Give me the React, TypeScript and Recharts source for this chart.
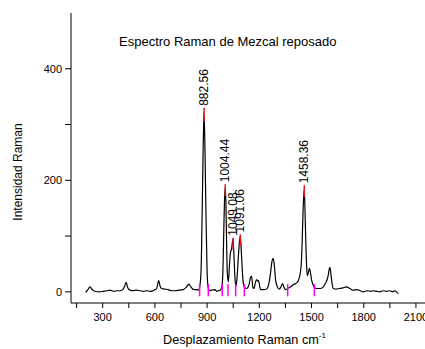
import { ComposedChart, Line, ReferenceLine, Scatter, XAxis, YAxis } from "recharts";

// Raman shift (cm-1) and intensity
const ramanShift = [
  202, 215, 227, 240, 256, 280, 303, 325, 342, 365, 385, 399, 415, 425, 434, 445, 457, 475, 492, 515,
  535, 553, 575, 595, 610, 622, 630, 639, 655, 677, 695, 715, 740, 763, 780, 796, 805, 811, 825, 840,
  850, 857, 865, 872, 877, 882.56, 888, 893, 900, 907, 915, 926, 945, 955, 964, 975, 984, 990, 996, 1000,
  1004.44, 1008, 1012, 1016, 1022, 1028, 1034, 1040, 1049.08, 1055, 1060, 1066, 1072, 1080, 1086, 1091.06, 1097, 1104, 1110, 1116,
  1128, 1140, 1151, 1156, 1163, 1170, 1178, 1185, 1191, 1196, 1202, 1208, 1225, 1242, 1255, 1265, 1273, 1280, 1287, 1294,
  1300, 1315, 1326, 1334, 1342, 1349, 1363, 1380, 1396, 1410, 1424, 1435, 1442, 1447, 1452, 1458.36, 1463, 1468, 1472, 1476,
  1482, 1487, 1492, 1500, 1507, 1516, 1530, 1549, 1565, 1578, 1587, 1595, 1601, 1606, 1612, 1618, 1625, 1640, 1660, 1680,
  1700, 1720, 1740, 1760, 1780, 1798, 1820, 1840, 1856, 1875, 1894, 1910, 1930, 1951, 1965, 1980, 1990, 1999,
];
const intensity = [
  -1, 4, 9, 4, 1, 0, 1, 2, 3, 1, 2, 2, 4, 9, 17, 7, 3, 2, 3, 2,
  1, 2, 1, 3, 6, 20, 10, 6, 5, 4, 2, 2, 3, 4, 8, 14, 10, 7, 4, 4,
  3, 8, 35, 150, 250, 322, 250, 150, 35, 6, 2, 3, 4, 1, 2, 3, 8, 30, 110, 165,
  188, 160, 90, 35, 18, 45, 70, 76, 95, 60, 25, 10, 25, 65, 90, 100, 70, 30, 12, 8,
  6, 12, 27, 28, 8, 6, 18, 22, 19, 20, 10, 4, 4, 5, 15, 35, 55, 60, 45, 20,
  12, 5, 10, 15, 8, 4, 6, 9, 13, 15, 20, 33, 55, 99, 150, 185, 140, 80, 45, 29,
  35, 42, 38, 22, 14, 8, 6, 6, 8, 14, 20, 28, 40, 44, 30, 15, 6, 5, 6, 7,
  9, 6, 3, 4, 2, 0, 2, 1, 2, 1, 0, 2, 1, 2, 0, 2, -1, -3,
];

// fitted peak centres
const peakCenters = [882.56, 1004.44, 1049.08, 1091.06, 1458.36];
const peakLabels = ["882.56", "1004.44", "1049.08", "1091.06", "1458.36"];
const peakMarkLow = [306, 172, 76, 82, 170];
const peakMarkHigh = [330, 193, 97, 103, 191];

// baseline anchor markers
const baseMarkers = [857, 907, 987, 1020, 1064, 1114, 1363, 1516];

const xTicks = [150, 300, 450, 600, 750, 900, 1050, 1200, 1350, 1500, 1650, 1800, 1950, 2100];
const yTicks = [0, 100, 200, 300, 400];

const spectrum = ramanShift.map((x, i) => ({ x, y: intensity[i] }));
const peaks = peakCenters.map((x, i) => ({ x, y: peakMarkHigh[i], label: peakLabels[i] }));

const font = "'Liberation Sans', Arial, sans-serif";

const PeakLabel = (props: any) => {
  const { cx, cy, payload } = props;
  const x = cx + 4;
  const y = cy - 2;
  return (
    <text
      x={x}
      y={y}
      transform={`rotate(-90, ${x}, ${y})`}
      fontSize={12}
      fontFamily={font}
      fill="#000"
    >
      {payload.label}
    </text>
  );
};

export default function App() {
  return (
    <div style={{ position: "absolute", left: 0, top: 0, width: 425, height: 349, background: "#fff" }}>
      <div
        style={{
          position: "absolute",
          left: 119,
          top: 34,
          fontFamily: font,
          fontSize: 13,
          color: "#000",
          whiteSpace: "nowrap",
        }}
      >
        Espectro Raman de Mezcal reposado
      </div>
      <ComposedChart width={425} height={349} margin={{ top: 13, right: 0, bottom: 0, left: 0 }}>
        <XAxis
          xAxisId="top"
          orientation="top"
          type="number"
          dataKey="x"
          domain={[118, 2152]}
          height={0}
          tick={false}
          tickLine={false}
          axisLine={{ stroke: "#000" }}
        />
        <XAxis
          type="number"
          dataKey="x"
          domain={[118, 2152]}
          ticks={xTicks}
          allowDataOverflow
          height={46}
          tickSize={5}
          tickMargin={5}
          stroke="#000"
          tick={{ fontSize: 11, fontFamily: font, fill: "#000" }}
          tickFormatter={(v: number) => (v % 300 === 0 ? String(v) : "")}
          interval={0}
          label={{
            content: () => (
              <text x={163} y={344} fontSize={12.7} fontFamily={font} fill="#000">
                Desplazamiento Raman cm
                <tspan fontSize={8} dy={-6}>-1</tspan>
              </text>
            ),
          }}
        />
        <YAxis
          type="number"
          domain={[-20, 500]}
          ticks={yTicks}
          allowDataOverflow
          width={71}
          tickSize={6}
          tickMargin={3}
          stroke="#000"
          interval={0}
          tick={{ fontSize: 11, fontFamily: font, fill: "#000" }}
          tickFormatter={(v: number) => (v % 200 === 0 ? String(v) : "")}
          label={{
            content: () => (
              <text
                x={22}
                y={172}
                transform="rotate(-90, 22, 172)"
                textAnchor="middle"
                fontSize={12}
                fontFamily={font}
                fill="#000"
              >
                Intensidad Raman
              </text>
            ),
          }}
        />
        <Line
          data={spectrum}
          dataKey="y"
          type="monotone"
          stroke="#000"
          strokeWidth={1.2}
          dot={false}
          isAnimationActive={false}
        />
        {baseMarkers.map((x) => (
          <ReferenceLine
            key={`b${x}`}
            segment={[
              { x, y: -8 },
              { x, y: 14 },
            ]}
            stroke="#ff00ff"
            strokeWidth={1.5}
          />
        ))}
        {peakCenters.map((x, i) => (
          <ReferenceLine
            key={`p${x}`}
            segment={[
              { x, y: peakMarkLow[i] },
              { x, y: peakMarkHigh[i] },
            ]}
            stroke="#e8141b"
            strokeWidth={1.5}
          />
        ))}
        <Scatter data={peaks} dataKey="y" shape={PeakLabel} isAnimationActive={false} />
      </ComposedChart>
    </div>
  );
}
